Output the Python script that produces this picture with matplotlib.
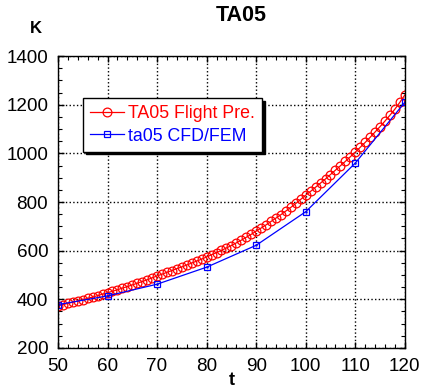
import numpy as np
import matplotlib
matplotlib.use('Agg')
import matplotlib.pyplot as plt
from matplotlib.ticker import MultipleLocator

plt.rcParams['font.family'] = ['Liberation Sans', 'DejaVu Sans']

# red series: one reading per t step
t_flight = list(range(50, 121))
k_flight = [373, 378, 383, 388, 393, 398, 404, 409, 415, 421,
            427, 433, 439, 446, 452, 459, 466, 473, 480, 488,
            496, 503, 511, 518, 526, 533, 541, 549, 557, 565,
            574, 583, 592, 601, 611, 621, 632, 643, 655, 667,
            680, 693, 706, 720, 734, 748, 763, 778, 794, 811,
            828, 844, 861, 878, 895, 913, 931, 949, 967, 986,
            1005, 1025, 1045, 1066, 1088, 1110, 1133, 1157, 1182, 1210,
            1240]

# blue series
t_cfd = [50, 60, 70, 80, 90, 100, 110, 120]
k_cfd = [378, 414, 462, 532, 622, 760, 960, 1210]

xticks = [50, 60, 70, 80, 90, 100, 110, 120]
yticks = [200, 400, 600, 800, 1000, 1200, 1400]

fig = plt.figure(figsize=(4.23, 3.87), dpi=100)
ax = fig.add_axes([0.137, 0.101, 0.820, 0.754])

ax.plot(t_flight, k_flight, color='red', lw=0.9, marker='o', ms=6.3,
        mfc='none', mec='red', mew=0.9, label='TA05 Flight Pre.')
ax.plot(t_cfd, k_cfd, color='blue', lw=0.9, marker='s', ms=5.0,
        mfc='none', mec='blue', mew=0.9, label='ta05 CFD/FEM')
ax.plot(t_cfd, k_cfd, ls='none', marker='.', ms=1.5, color='blue')

ax.set_xlim(50, 120)
ax.set_ylim(200, 1400)
ax.set_xticks(xticks)
ax.set_yticks(yticks)
ax.xaxis.set_minor_locator(MultipleLocator(2))
ax.yaxis.set_minor_locator(MultipleLocator(50))
ax.tick_params(which='both', direction='in', top=True, right=True,
               labelsize=13.6, color='black')
ax.tick_params(which='major', length=4, width=1, pad=7)
ax.tick_params(which='minor', length=3, width=0.8)
ax.grid(True, which='major', color='black', ls=':', lw=1.0)
for s in ax.spines.values():
    s.set_linewidth(1.0)

fig.text(0.57, 0.96, 'TA05', ha='center', va='center',
         fontsize=15.5, fontweight='bold')
fig.text(0.085, 0.927, 'K', ha='center', va='center',
         fontsize=12, fontweight='bold')
fig.text(0.547, 0.018, 't', ha='center', va='center',
         fontsize=13, fontweight='bold')

leg = ax.legend(loc='upper left', bbox_to_anchor=(0.072, 0.856),
                borderaxespad=0, fontsize=12.8, numpoints=1,
                handlelength=1.9, handletextpad=0.25, borderpad=0.4,
                labelspacing=0.3, fancybox=False, framealpha=1,
                edgecolor='black', shadow={'color': 'black', 'alpha': 1})
leg.get_frame().set_linewidth(1.0)
for txt, c in zip(leg.get_texts(), ['red', 'blue']):
    txt.set_color(c)

fig.savefig('out.png', dpi=100)
